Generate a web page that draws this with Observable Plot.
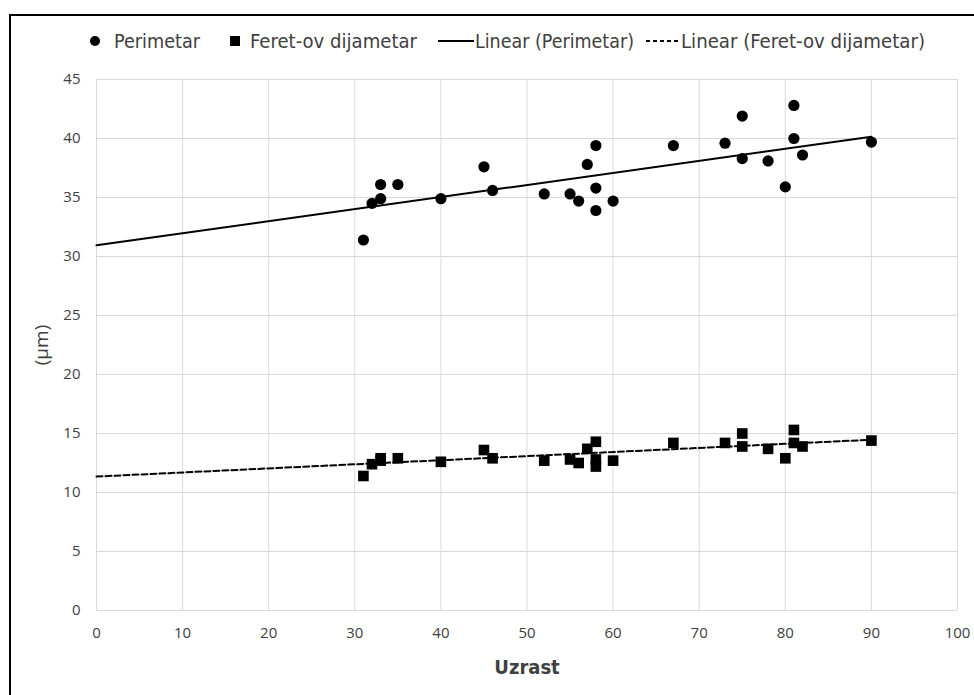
<!DOCTYPE html>
<html><head><meta charset="utf-8">
<script src="https://cdn.jsdelivr.net/npm/d3@7"></script>
<script src="https://cdn.jsdelivr.net/npm/@observablehq/plot@0.6"></script>
<style>
body{margin:0;background:#fff;width:974px;height:695px;overflow:hidden;position:relative;}
#frame{position:absolute;left:9px;top:14px;width:1000px;height:1000px;border:2px solid #000;box-sizing:border-box;}
#legend{position:absolute;top:0;left:0;width:974px;height:65px;font-family:"Liberation Sans Narrow","DejaVu Sans Condensed",sans-serif;font-size:19px;color:#404040;white-space:nowrap;}
#legend svg{position:absolute;top:32px}
#legend span{position:absolute;top:29px;line-height:24px;display:inline-block;transform-origin:left center;}
#chart{position:absolute;left:0;top:65px}
</style>
</head><body>
<div id="frame"></div>
<div id="legend"></div>
<div id="chart"></div>
<script>
// Data
const ages      = [31,32,33,33,35,40,45,46,52,55,56,57,58,58,58,60,67,73,75,75,78,80,81,81,82,90];
const perimetar = [31.4,34.5,36.1,34.9,36.1,34.9,37.6,35.6,35.3,35.3,34.7,37.8,39.4,35.8,33.9,34.7,39.4,39.6,41.9,38.3,38.1,35.9,42.8,40.0,38.6,39.7];
const feret     = [11.4,12.4,12.9,12.7,12.9,12.6,13.6,12.9,12.7,12.8,12.5,13.7,14.3,12.8,12.2,12.7,14.2,14.2,15.0,13.9,13.7,12.9,15.3,14.2,13.9,14.4];
const trendX      = [0, 90];
const perimTrend  = [30.95, 40.15];
const feretTrend  = [11.35, 14.47];
const xTicks = [0,10,20,30,40,50,60,70,80,90,100];
const yTicks = [0,5,10,15,20,25,30,35,40,45];
const seriesNames = ["Perimetar","Feret-ov dijametar","Linear (Perimetar)","Linear (Feret-ov dijametar)"];

const pts = ages.map((a,i)=>({age:a, p:perimetar[i], f:feret[i]}));
const trend = trendX.map((x,i)=>({x, p:perimTrend[i], f:feretTrend[i]}));

const tickFont = '"Open Sans", sans-serif';
const chart = Plot.plot({
  width: 974,
  height: 630,
  marginLeft: 96,
  marginRight: 17,
  marginTop: 14,
  marginBottom: 85,
  style: {fontFamily: tickFont, fontSize: "15px", color: "#404040", background: "transparent", overflow: "visible"},
  x: {domain: [0,100], ticks: xTicks, label: "Uzrast"},
  y: {domain: [0,45], ticks: yTicks, label: "(µm)"},
  marks: [
    Plot.gridX(xTicks, {stroke: "#d9d9d9", strokeOpacity: 1, strokeWidth: 1}),
    Plot.gridY(yTicks, {stroke: "#d9d9d9", strokeOpacity: 1, strokeWidth: 1}),
    Plot.axisX({ticks: xTicks, tickSize: 0, tickPadding: 17, label: "Uzrast", labelAnchor: "center", labelArrow: "none", labelOffset: 63, fill: "#404040"}),
    Plot.axisY({ticks: yTicks, tickSize: 0, tickPadding: 16, label: "(µm)", labelAnchor: "center", labelArrow: "none", labelOffset: 62, fill: "#404040"}),
    Plot.line(trend, {x: "x", y: "p", stroke: "#000", strokeWidth: 2}),
    Plot.line(trend, {x: "x", y: "f", stroke: "#000", strokeWidth: 2, strokeDasharray: "6,3"}),
    Plot.dot(pts, {x: "age", y: "p", r: 5.6, fill: "#000", symbol: "circle"}),
    Plot.dot(pts, {x: "age", y: "f", r: 6.0, fill: "#000", symbol: "square"})
  ]
});
document.getElementById("chart").appendChild(chart);

// Style axis labels
d3.select(chart).selectAll('g[aria-label="x-axis label"] text')
  .style("font-family", '"Liberation Sans Narrow","DejaVu Sans Condensed",sans-serif')
  .style("font-weight", "bold").style("font-size", "20px").attr("fill", "#404040");
d3.select(chart).selectAll('g[aria-label="y-axis label"] text')
  .style("font-size", "19px").attr("fill", "#404040");

// Legend
const legend = d3.select("#legend");
const markerLefts = [89, 229, 438, 646];
const markerWidths = [12, 12, 36, 34];
const textLefts = [114, 250, 475, 681];
const textWidths = [86, 167, 159, 244];
const mk = [
  s => s.append("circle").attr("cx",6).attr("cy",9).attr("r",5).attr("fill","#000"),
  s => s.append("rect").attr("x",1).attr("y",4).attr("width",10).attr("height",10).attr("fill","#000"),
  s => s.append("line").attr("x1",0).attr("x2",36).attr("y1",9).attr("y2",9).attr("stroke","#000").attr("stroke-width",2),
  s => s.append("line").attr("x1",0).attr("x2",34).attr("y1",9).attr("y2",9).attr("stroke","#000").attr("stroke-width",2).attr("stroke-dasharray","4,3")
];
seriesNames.forEach((name,i)=>{
  const s = legend.append("svg").attr("width", markerWidths[i]).attr("height",18).style("left", markerLefts[i]+"px");
  mk[i](s);
  const sp = legend.append("span").text(name).style("left", textLefts[i]+"px");
  const actual = sp.node().getBoundingClientRect().width;
  sp.style("transform", `scaleX(${textWidths[i]/actual})`);
});
</script>
</body></html>
